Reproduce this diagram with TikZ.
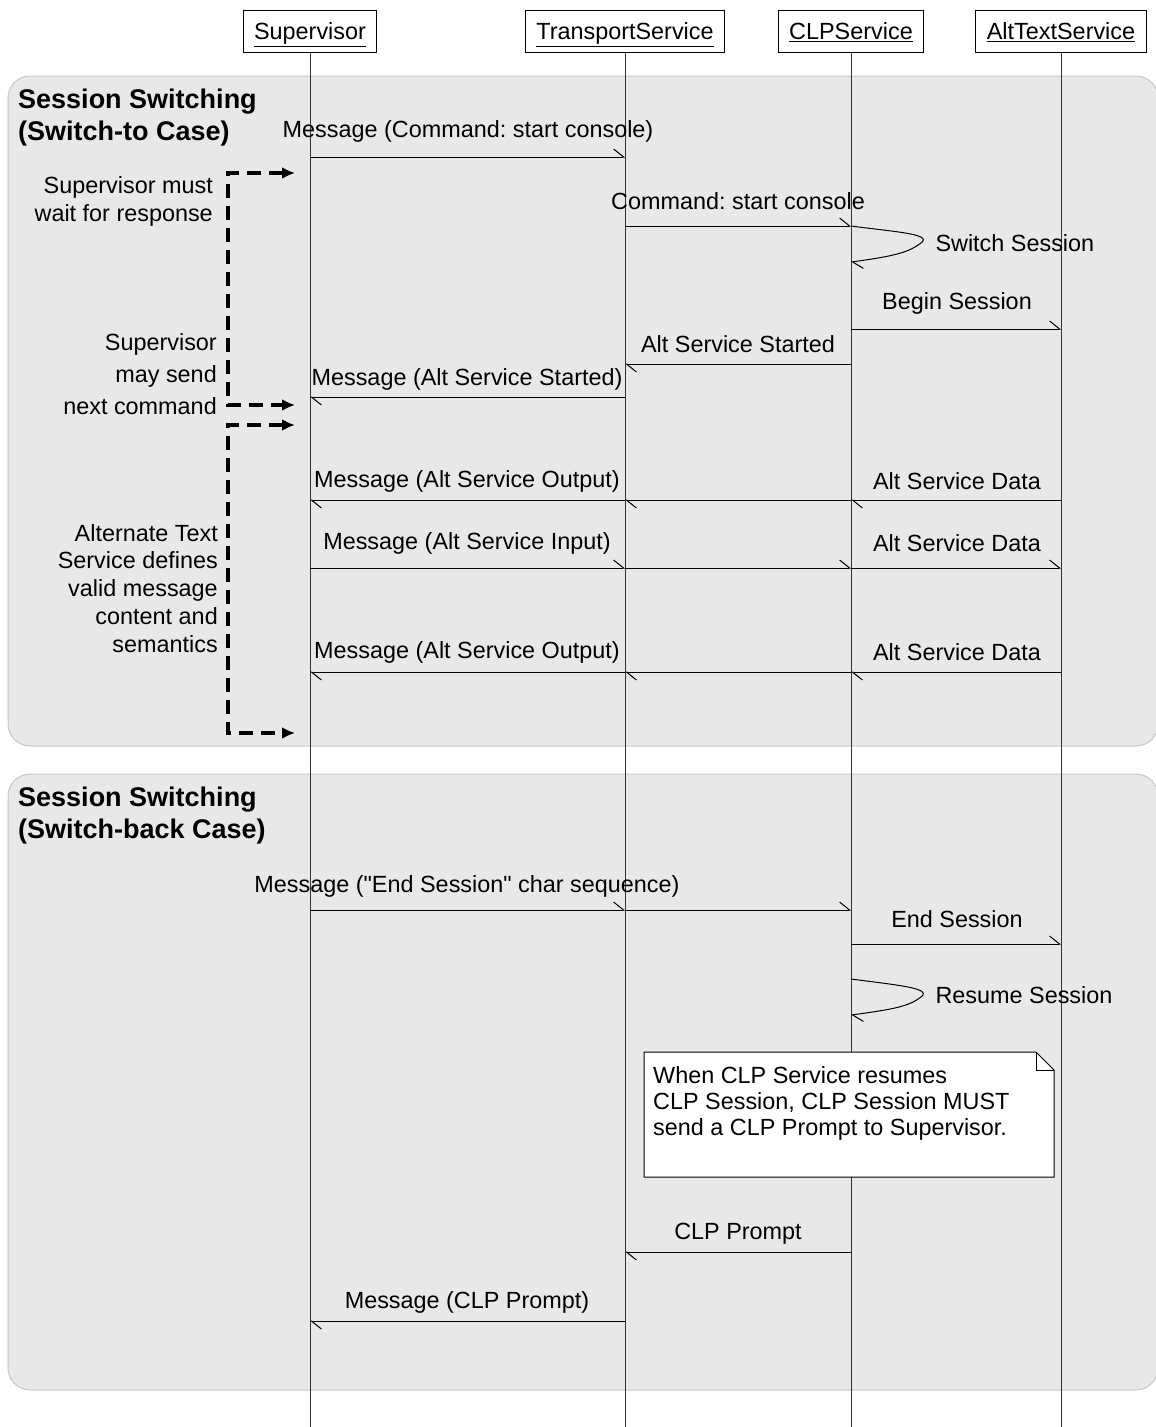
\documentclass[tikz,border=0pt]{standalone}
\usepackage{fontspec}
\setmainfont{Liberation Sans}
\newfontfamily\qfont{Liberation Sans}
\usetikzlibrary{arrows.meta}
\frenchspacing

\begin{document}
\begin{tikzpicture}[x=1pt,y=-1pt,
  font=\fontsize{23.4}{28}\selectfont,
  obj/.style={draw,fill=white,line width=1pt,inner xsep=11pt,text height=21pt,text depth=4pt,minimum height=42pt},
  grp/.style={draw=black!22,fill=black!9,line width=1pt,rounded corners=22pt},
  life/.style={draw=black!80,line width=1pt},
  msg/.style={line width=1pt,-{Straight Barb[left,length=10pt,width=16pt]}},
  notebox/.style={draw,fill=white,line width=1pt},
  wait/.style={line width=3.4pt,dash pattern=on 14pt off 8pt,{Latex[length=13pt,width=12pt]}-{Latex[length=13pt,width=12pt]}},
  grptitle/.style={font=\fontsize{27}{32}\selectfont\bfseries,align=left,anchor=north west,inner sep=0pt},
  side/.style={align=right,anchor=north east,inner sep=0pt}]

\useasboundingbox (0,0) rectangle (1156,1427);

\draw[grp] (8,76) rectangle (1158,746);
\draw[grp] (8,774) rectangle (1158,1390);
\node[grptitle] (t1) at (18,89) {Session Switching\\(Switch-to Case)};
\node[grptitle] (t2) at (18,787) {Session Switching\\(Switch-back Case)};

\node[obj] (sup) at (310,31) {\underline{Supervisor}};
\node[obj] (tra) at (625,31) {\underline{TransportService}};
\node[obj] (clp) at (851,31) {\underline{CLPService}};
\node[obj] (alt) at (1061,31) {\underline{AltTextService}};
\coordinate (bot) at (0,1427);
\foreach \o in {sup,tra,clp,alt}
  \draw[life] (\o.south) -- (\o |- bot);

\coordinate (m1) at (0,157);
\coordinate (m2) at (0,226);
\coordinate (m3) at (0,262);
\coordinate (m4) at (0,329);
\coordinate (m5) at (0,364);
\coordinate (m6) at (0,397);
\coordinate (m7) at (0,500);
\coordinate (m8) at (0,568);
\coordinate (m9) at (0,672);
\coordinate (m10) at (0,910);
\coordinate (m11) at (0,944);
\coordinate (m12) at (0,979);
\coordinate (m13) at (0,1015);
\coordinate (m14) at (0,1252);
\coordinate (m15) at (0,1321);

\draw[msg] (sup |- m1) -- (tra |- m1);
\node (l1) at (468,131) {Message (Command: start console)};
\draw[msg] (tra |- m2) -- (clp |- m2);
\node (l2) at (738,201) {Command: start console};
\draw[msg] (clp |- m2) .. controls +(45,6) and +(12,-9) .. ++(70,17)
  .. controls +(-12,9) and +(45,-6) .. (clp |- m3);
\node[anchor=west] (l3) at (932,243) {Switch Session};
\draw[msg] (clp |- m4) -- (alt |- m4);
\node (l4) at (957,303) {Begin Session};
\draw[msg] (clp |- m5) -- (tra |- m5);
\node (l5) at (738,344) {Alt Service Started};
\draw[msg] (tra |- m6) -- (sup |- m6);
\node (l6) at (467,379) {Message (Alt Service Started)};

\foreach \a/\b in {alt/clp,clp/tra,tra/sup}
  \draw[msg] (\a |- m7) -- (\b |- m7);
\node (l7) at (467,481) {Message (Alt Service Output)};
\node (l8) at (957,481) {Alt Service Data};
\foreach \a/\b in {sup/tra,tra/clp,clp/alt}
  \draw[msg] (\a |- m8) -- (\b |- m8);
\node (l9) at (467,543) {Message (Alt Service Input)};
\node (l10) at (957,543) {Alt Service Data};
\foreach \a/\b in {alt/clp,clp/tra,tra/sup}
  \draw[msg] (\a |- m9) -- (\b |- m9);
\node (l11) at (467,652) {Message (Alt Service Output)};
\node (l12) at (957,652) {Alt Service Data};

\node[side] (s1) at (213,176) {Supervisor must\\wait for response};
\node[side,font=\fontsize{23.4}{32}\selectfont] (s2) at (217,333) {Supervisor\\may send\\next command};
\node[side,font=\fontsize{23.4}{27.75}\selectfont] (s3) at (218,524) {Alternate Text\\Service defines\\valid message\\content and\\semantics};
\coordinate (wa1) at (295,173);
\coordinate (wc1) at (228,405);
\coordinate (wa2) at (295,405);
\draw[wait] (wa1) -| (wc1) -- (wa2);
\coordinate (wa3) at (295,425);
\coordinate (wc2) at (228,733);
\coordinate (wa4) at (295,733);
\draw[wait] (wa3) -| (wc2) -- (wa4);

\draw[msg] (sup |- m10) -- (tra |- m10);
\draw[msg] (tra |- m10) -- (clp |- m10);
\node (l13) at (467,886) {Message ({\qfont"}End Session{\qfont"} char sequence)};
\draw[msg] (clp |- m11) -- (alt |- m11);
\node (l14) at (957,919) {End Session};
\draw[msg] (clp |- m12) .. controls +(45,6) and +(12,-9) .. ++(70,18)
  .. controls +(-12,9) and +(45,-6) .. (clp |- m13);
\node[anchor=west] (l15) at (932,995) {Resume Session};

\draw[notebox] (644,1052) -- (1036,1052) -- (1054,1070) -- (1054,1177) -- (644,1177) -- cycle;
\draw[line width=1pt] (1036,1052) |- (1054,1070);
\node[align=left,anchor=north west,inner sep=0pt,font=\fontsize{23.4}{26}\selectfont] (nt) at (653,1066)
  {When CLP Service resumes\\CLP Session, CLP Session MUST\\send a CLP Prompt to Supervisor.};

\draw[msg] (clp |- m14) -- (tra |- m14);
\node (l16) at (738,1234) {CLP Prompt};
\draw[msg] (tra |- m15) -- (sup |- m15);
\node (l17) at (467,1302) {Message (CLP Prompt)};
\end{tikzpicture}
\end{document}
